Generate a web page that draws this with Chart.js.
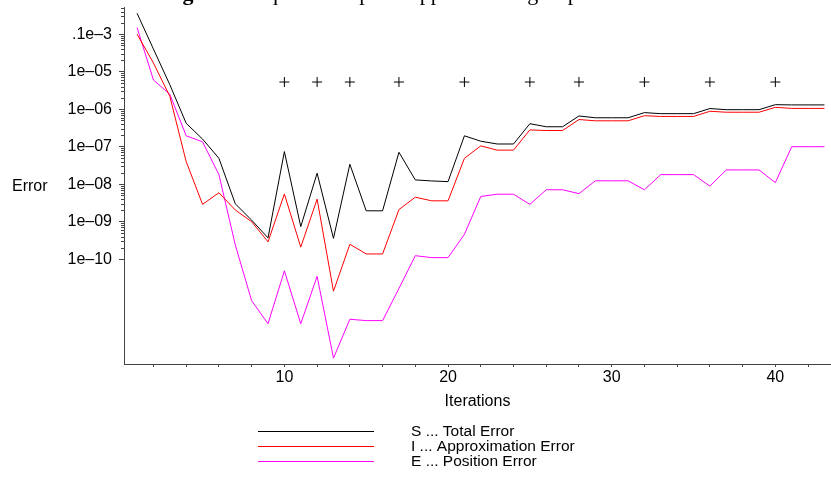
<!DOCTYPE html>
<html>
<head>
<meta charset="utf-8">
<title>Error vs iterations</title>
<script src="https://cdn.jsdelivr.net/npm/chart.js@4.4.1/dist/chart.umd.min.js"></script>
<style>
  html, body { margin: 0; padding: 0; background: #fff; }
  canvas { display: block; }
</style>
</head>
<body>
<canvas id="errorChart" width="831" height="477"></canvas>
<script>
const iterations = [1, 2, 3, 4, 5, 6, 7, 8, 9, 10, 11, 12, 13, 14, 15, 16, 17, 18, 19, 20, 21,
  22, 23, 24, 25, 26, 27, 28, 29, 30, 31, 32, 33, 34, 35, 36, 37, 38, 39, 40, 41, 42, 43];

const totalError = [3.6e-4, 4.0e-5, 4.5e-6, 4.2e-7, 1.6e-7, 4.9e-8, 3.0e-9, 1.1e-9, 3.7e-10, 7.4e-8,
  7.4e-10, 1.96e-8, 3.6e-10, 3.4e-8, 1.95e-9, 1.95e-9, 7.1e-8, 1.3e-8, 1.22e-8, 1.17e-8,
  1.95e-7, 1.4e-7, 1.18e-7, 1.18e-7, 4.1e-7, 3.4e-7, 3.4e-7, 6.6e-7, 5.9e-7, 5.9e-7,
  5.9e-7, 8.1e-7, 7.6e-7, 7.6e-7, 7.6e-7, 1.04e-6, 9.7e-7, 9.7e-7, 9.7e-7, 1.32e-6,
  1.3e-6, 1.3e-6, 1.3e-6];

const approxError = [1.0e-4, 1.7e-5, 2.2e-6, 4.0e-8, 2.9e-9, 5.9e-9, 2.05e-9, 1.0e-9, 2.9e-10, 5.5e-9,
  2.1e-10, 4.0e-9, 1.4e-11, 2.5e-10, 1.38e-10, 1.38e-10, 2.1e-9, 4.5e-9, 3.6e-9, 3.6e-9,
  4.9e-8, 1.05e-7, 8.1e-8, 8.1e-8, 2.8e-7, 2.7e-7, 2.7e-7, 5.3e-7, 4.9e-7, 4.9e-7,
  4.9e-7, 6.7e-7, 6.4e-7, 6.4e-7, 6.4e-7, 8.8e-7, 8.3e-7, 8.3e-7, 8.3e-7, 1.12e-6,
  1.05e-6, 1.05e-6, 1.05e-6];

const positionError = [1.5e-4, 6.0e-6, 2.5e-6, 1.95e-7, 1.35e-7, 1.8e-8, 2.4e-10, 7.8e-12, 1.9e-12, 4.9e-11,
  1.9e-12, 3.5e-11, 2.3e-13, 2.5e-12, 2.3e-12, 2.3e-12, 1.66e-11, 1.24e-10, 1.1e-10, 1.1e-10,
  4.6e-10, 4.7e-9, 5.4e-9, 5.4e-9, 2.9e-9, 7.1e-9, 7.1e-9, 5.6e-9, 1.23e-8, 1.23e-8,
  1.23e-8, 7.1e-9, 1.8e-8, 1.8e-8, 1.8e-8, 8.9e-9, 2.4e-8, 2.4e-8, 2.4e-8, 1.1e-8,
  1.0e-7, 1.0e-7, 1.0e-7];

// iterations marked with a "+"
const markIterations = [10, 12, 14, 17, 21, 25, 28, 32, 36, 40];
const markLevel = 5.3e-6;

const seriesLabels = ['S ... Total Error', 'I ... Approximation Error', 'E ... Position Error'];

const xTickValues = [2, 4, 6, 8, 10, 12, 14, 16, 18, 20, 22, 24, 26, 28, 30, 32, 34, 36, 38, 40, 42];
const xTickLabels = { 10: '10', 20: '20', 30: '30', 40: '40' };

const yTickValues = [1e-10, 1e-9, 1e-8, 1e-7, 1e-6, 1e-5, 1e-4];
const yTickLabels = ['1e\u201310', '1e\u201309', '1e\u201308', '1e\u201307', '1e\u201306', '1e\u201305', '.1e\u20133'];

const titleBold = 'Figure 3.';
const titleText = 'Equidistant point approximating a sphere';

Chart.defaults.font.family = '"Liberation Sans", Arial, sans-serif';
Chart.defaults.font.size = 16;
Chart.defaults.color = '#000';

const toPoints = values => values.map((v, i) => ({ x: iterations[i], y: v }));

// minor log ticks, "Error" label, legend and the clipped caption
const extrasPlugin = {
  id: 'extras',
  afterDraw(chart) {
    const ctx = chart.ctx;
    const yScale = chart.scales.y;
    const area = chart.chartArea;
    ctx.save();

    ctx.strokeStyle = '#444';
    ctx.lineWidth = 1;
    ctx.beginPath();
    for (let d = -10; d <= -4; d++) {
      for (let m = 2; m <= 9; m++) {
        const v = m * Math.pow(10, d);
        if (v > yScale.max) continue;
        const py = Math.round(yScale.getPixelForValue(v)) + 0.5;
        ctx.moveTo(area.left - 3, py);
        ctx.lineTo(area.left, py);
      }
    }
    ctx.stroke();

    ctx.fillStyle = '#000';
    ctx.font = '16px "Liberation Sans", Arial, sans-serif';
    ctx.textAlign = 'left';
    ctx.textBaseline = 'middle';
    ctx.fillText('Error', 12, (area.top + area.bottom) / 2 + 1);

    ctx.font = '15.5px "Liberation Sans", Arial, sans-serif';
    chart.data.datasets.slice(0, 3).forEach((ds, i) => {
      const ly = 431.5 + i * 15;
      ctx.strokeStyle = ds.borderColor;
      ctx.beginPath();
      ctx.moveTo(258, ly);
      ctx.lineTo(374, ly);
      ctx.stroke();
      ctx.fillText(ds.label, 411, ly + 0.5);
    });

    ctx.textBaseline = 'alphabetic';
    ctx.font = 'bold 22px "Liberation Serif", "Times New Roman", serif';
    ctx.fillText(titleBold, 163, 0);
    ctx.font = '22px "Liberation Serif", "Times New Roman", serif';
    ctx.fillText(titleText, 267 - ctx.measureText('E').width, 0);
    ctx.restore();
  }
};

document.addEventListener('DOMContentLoaded', () => {
  const ctx = document.getElementById('errorChart').getContext('2d');
  new Chart(ctx, {
    type: 'line',
    data: {
      datasets: [
        { label: seriesLabels[0], data: toPoints(totalError), borderColor: '#000000' },
        { label: seriesLabels[1], data: toPoints(approxError), borderColor: '#ff0000' },
        { label: seriesLabels[2], data: toPoints(positionError), borderColor: '#ff00ff' },
        {
          label: 'marks',
          data: markIterations.map(x => ({ x: x, y: markLevel })),
          showLine: false,
          pointStyle: 'cross',
          pointRadius: 5,
          pointBorderWidth: 1,
          borderColor: '#000000',
          pointBorderColor: '#000000'
        }
      ]
    },
    options: {
      responsive: false,
      animation: false,
      layout: { autoPadding: false, padding: { top: 7, right: 0, bottom: 0, left: 0 } },
      elements: {
        line: { borderWidth: 1, tension: 0 },
        point: { radius: 0, hoverRadius: 0 }
      },
      plugins: {
        legend: { display: false },
        tooltip: { enabled: false }
      },
      scales: {
        x: {
          type: 'linear',
          min: 0.2,
          max: 43.4,
          bounds: 'data',
          afterBuildTicks: scale => { scale.ticks = xTickValues.map(v => ({ value: v })); },
          afterFit: scale => {
            scale.height = 113;
            scale.paddingLeft = 0;
            scale.paddingRight = 0;
          },
          grid: { drawOnChartArea: false, drawTicks: true, tickLength: 3, tickColor: '#444' },
          border: { display: true, color: '#444', width: 1 },
          ticks: {
            autoSkip: false,
            maxRotation: 0,
            minRotation: 0,
            padding: 1,
            callback: value => xTickLabels[value] || ''
          },
          title: { display: true, text: 'Iterations', padding: { top: 0, bottom: 66 } }
        },
        y: {
          type: 'logarithmic',
          min: Math.pow(10, -12.795),
          max: Math.pow(10, -3.275),
          bounds: 'data',
          afterBuildTicks: scale => { scale.ticks = yTickValues.map(v => ({ value: v })); },
          afterFit: scale => {
            scale.width = 124;
            scale.paddingTop = 0;
            scale.paddingBottom = 0;
          },
          grid: { drawOnChartArea: false, drawTicks: true, tickLength: 5, tickColor: '#444' },
          border: { display: true, color: '#444', width: 1 },
          ticks: {
            autoSkip: false,
            padding: 7,
            callback: (value, index) => yTickLabels[index]
          }
        }
      }
    },
    plugins: [extrasPlugin]
  });
});
</script>
</body>
</html>
